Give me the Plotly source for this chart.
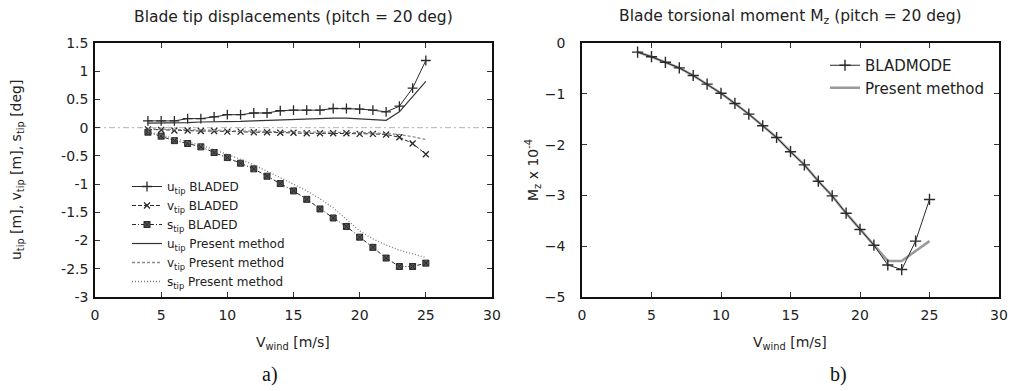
import plotly.graph_objects as go

# ---------------- data ----------------
v_wind = list(range(4, 26))

u_bladed = [0.12, 0.12, 0.12, 0.16, 0.16, 0.19, 0.23, 0.23, 0.26, 0.26, 0.30,
            0.31, 0.31, 0.31, 0.34, 0.34, 0.33, 0.31, 0.28, 0.38, 0.70, 1.19]
v_bladed = [-0.03, -0.04, -0.05, -0.05, -0.06, -0.06, -0.07, -0.07, -0.08, -0.08, -0.09,
            -0.09, -0.10, -0.10, -0.10, -0.10, -0.11, -0.11, -0.12, -0.17, -0.28, -0.47]
s_bladed = [-0.08, -0.15, -0.23, -0.28, -0.34, -0.44, -0.53, -0.63, -0.73, -0.86, -0.99,
            -1.12, -1.27, -1.44, -1.60, -1.75, -1.94, -2.12, -2.31, -2.46, -2.46, -2.40]

u_present = [0.08, 0.08, 0.09, 0.09, 0.10, 0.10, 0.11, 0.11, 0.12, 0.13, 0.14,
             0.15, 0.16, 0.16, 0.17, 0.17, 0.16, 0.15, 0.13, 0.28, 0.55, 0.82]
v_present = [-0.02, -0.03, -0.03, -0.04, -0.04, -0.05, -0.05, -0.06, -0.06, -0.07, -0.07,
             -0.07, -0.08, -0.08, -0.08, -0.09, -0.09, -0.09, -0.10, -0.12, -0.16, -0.21]
s_present = [-0.07, -0.13, -0.19, -0.25, -0.31, -0.39, -0.47, -0.56, -0.66, -0.77, -0.88,
             -1.00, -1.12, -1.26, -1.42, -1.62, -1.83, -1.97, -2.08, -2.17, -2.24, -2.30]

mz_bladmode = [-0.18, -0.27, -0.38, -0.49, -0.64, -0.81, -0.99, -1.19, -1.40, -1.63, -1.86,
               -2.14, -2.40, -2.72, -3.01, -3.35, -3.67, -3.98, -4.37, -4.46, -3.90, -3.08]
mz_present = [-0.18, -0.27, -0.38, -0.49, -0.64, -0.81, -0.99, -1.19, -1.40, -1.63, -1.86,
              -2.14, -2.40, -2.72, -3.01, -3.35, -3.67, -3.98, -4.29, -4.29, -4.10, -3.90]

x_ticks = [0, 5, 10, 15, 20, 25, 30]
y1_ticks = [1.5, 1, 0.5, 0, -0.5, -1, -1.5, -2, -2.5, -3]
y2_ticks = [0, -1, -2, -3, -4, -5]

# ---------------- figure ----------------
W, H = 1014, 391
FONT = "DejaVu Sans"
DARK = "#2a2a2a"


def px_x(p):
    return p / W


def px_y(p):
    return 1 - p / H


fig = go.Figure()

# left plot traces
fig.add_trace(go.Scatter(x=v_wind, y=u_bladed, mode="lines+markers", name="u<sub>tip</sub> BLADED",
                         line=dict(color=DARK, width=1),
                         marker=dict(symbol="cross-thin", size=7, line=dict(color=DARK, width=1.3)),
                         xaxis="x", yaxis="y", legend="legend"))
fig.add_trace(go.Scatter(x=v_wind, y=v_bladed, mode="lines+markers", name="v<sub>tip</sub> BLADED",
                         line=dict(color=DARK, width=1, dash="4px,2px"),
                         marker=dict(symbol="x-thin", size=6, line=dict(color=DARK, width=1.3)),
                         xaxis="x", yaxis="y", legend="legend"))
fig.add_trace(go.Scatter(x=v_wind, y=s_bladed, mode="lines+markers", name="s<sub>tip</sub> BLADED",
                         line=dict(color=DARK, width=1, dash="4px,2px,1px,2px"),
                         marker=dict(symbol="square-x", size=6, color="#555555",
                                     line=dict(color=DARK, width=1)),
                         xaxis="x", yaxis="y", legend="legend"))
fig.add_trace(go.Scatter(x=v_wind, y=u_present, mode="lines", name="u<sub>tip</sub> Present method",
                         line=dict(color="#333333", width=1.2),
                         xaxis="x", yaxis="y", legend="legend"))
fig.add_trace(go.Scatter(x=v_wind, y=v_present, mode="lines", name="v<sub>tip</sub> Present method",
                         line=dict(color="#8a8a8a", width=1.3, dash="3px,2px"),
                         xaxis="x", yaxis="y", legend="legend"))
fig.add_trace(go.Scatter(x=v_wind, y=s_present, mode="lines", name="s<sub>tip</sub> Present method",
                         line=dict(color="#7a7a7a", width=1.3, dash="1px,2px"),
                         xaxis="x", yaxis="y", legend="legend"))

# right plot traces
fig.add_trace(go.Scatter(x=v_wind, y=mz_present, mode="lines", name="Present method",
                         line=dict(color="#9a9a9a", width=2.5),
                         xaxis="x2", yaxis="y2", legend="legend2", legendrank=2))
fig.add_trace(go.Scatter(x=v_wind, y=mz_bladmode, mode="lines+markers", name="BLADMODE",
                         line=dict(color=DARK, width=1),
                         marker=dict(symbol="cross-thin", size=8, line=dict(color=DARK, width=1.4)),
                         xaxis="x2", yaxis="y2", legend="legend2", legendrank=1))

axis_common = dict(showline=True, linecolor="#111111", linewidth=1.5, mirror="ticks",
                   ticks="inside", ticklen=5, tickwidth=1, tickcolor="#333333",
                   showgrid=False, zeroline=False, automargin=False,
                   tickfont=dict(family=FONT, size=14, color="#222222"))

fig.update_layout(
    width=W, height=H,
    margin=dict(l=0, r=0, t=0, b=0, pad=0),
    paper_bgcolor="white", plot_bgcolor="white",
    showlegend=True,
    xaxis=dict(domain=[px_x(95), px_x(492)], range=[0, 30], tickvals=x_ticks,
               anchor="y", ticklabelstandoff=4, **axis_common),
    yaxis=dict(domain=[px_y(297), px_y(43)], range=[-3, 1.5], tickvals=y1_ticks,
               ticktext=[f"{v:g}" for v in y1_ticks],
               anchor="x", ticklabelstandoff=2, **axis_common),
    xaxis2=dict(domain=[px_x(582), px_x(999)], range=[0, 30], tickvals=x_ticks,
                anchor="y2", ticklabelstandoff=4, **axis_common),
    yaxis2=dict(domain=[px_y(297), px_y(43)], range=[-5, 0], tickvals=y2_ticks,
                anchor="x2", ticklabelstandoff=12, **axis_common),
    legend=dict(x=px_x(127), y=px_y(172), xanchor="left", yanchor="top",
                bgcolor="rgba(0,0,0,0)", borderwidth=0, tracegroupgap=0,
                itemwidth=30, font=dict(family=FONT, size=12, color="#222222")),
    legend2=dict(x=px_x(825), y=px_y(49), xanchor="left", yanchor="top",
                 bgcolor="rgba(0,0,0,0)", borderwidth=0,
                 itemwidth=30, font=dict(family=FONT, size=15, color="#222222")),
)

# dashed zero line in the left plot
fig.add_shape(type="line", xref="x domain", yref="y", x0=0, x1=1, y0=0, y1=0,
              line=dict(color="#b5b5b5", width=1, dash="6px,3px,2px,3px"), layer="below")

ann_font = dict(family=FONT, size=14, color="#222222")
annotations = [
    dict(text="Blade tip displacements (pitch = 20 deg)", x=px_x(293), y=px_y(17),
         font=dict(family=FONT, size=15.5, color="#222222")),
    dict(text="Blade torsional moment M<sub>z</sub> (pitch = 20 deg)", x=px_x(790), y=px_y(17),
         font=dict(family=FONT, size=15.5, color="#222222")),
    dict(text="V<sub>wind</sub> [m/s]", x=px_x(293), y=px_y(343), font=ann_font),
    dict(text="V<sub>wind</sub> [m/s]", x=px_x(790), y=px_y(343), font=ann_font),
    dict(text="u<sub>tip</sub> [m], v<sub>tip</sub> [m], s<sub>tip</sub> [deg]", x=px_x(17), y=px_y(170),
         textangle=-90, font=ann_font),
    dict(text="M<sub>z</sub> x 10<sup>-4</sup>", x=px_x(533), y=px_y(170), textangle=-90, font=ann_font),
]
for a in annotations:
    fig.add_annotation(xref="paper", yref="paper", showarrow=False,
                       xanchor="center", yanchor="middle", **a)

for txt, xp in [("a)", 270), ("b)", 838)]:
    fig.add_annotation(text=txt, xref="paper", yref="paper", x=px_x(xp), y=px_y(374),
                       showarrow=False, xanchor="center", yanchor="middle",
                       font=dict(family="Liberation Serif", size=20, color="#111111"))

fig.write_html("out.html", config={"displayModeBar": False},
               post_script="document.body.style.margin='0';document.body.style.overflow='hidden';")
